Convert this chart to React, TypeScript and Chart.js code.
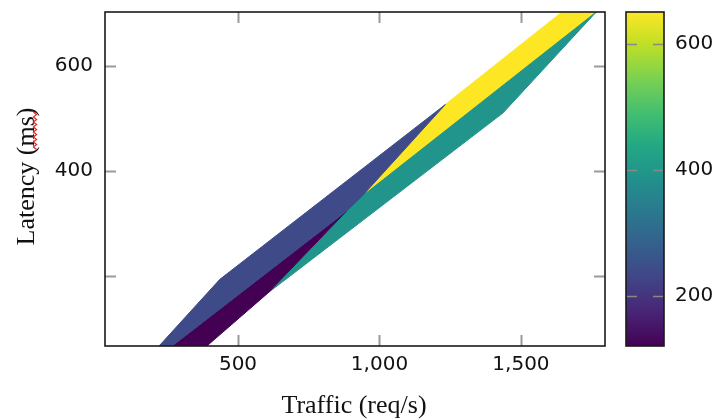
import React, { useEffect, useRef } from 'react';
import { Chart, registerables } from 'chart.js';

Chart.register(...registerables);

// ---- axis ticks / labels ----
const xTicks = [500, 1000, 1500];
const yTicks = [200, 400, 600];
const yTickLabels = ['', '400', '600'];
const cbTicks = [200, 400, 600];
const xRange = [30, 1797];
const yRange = [67, 703];
const cbRange = [121, 651];
const xTitle = 'Traffic (req/s)';
const yTitle = 'Latency (ms)';

// ---- regions (polygons in data space) and their values ----
const regionValues = [240, 121, 395, 651];
const blueX = [221, 436, 1233, 938, 884, 267];
const blueY = [67, 194, 527, 352, 324, 67];
const purpleX = [267, 884, 606, 390];
const purpleY = [67, 324, 168, 67];
const tealX = [606, 884, 938, 1766, 1437];
const tealY = [168, 324, 352, 703, 511];
const yellowX = [938, 1233, 1645, 1766];
const yellowY = [352, 527, 703, 703];

const VIRIDIS = ['#440154', '#482475', '#414487', '#355f8d', '#2a788e', '#21918c', '#22a884', '#44bf70', '#7ad151', '#bddf26', '#fde725'];

function hexToRgb(h: string) {
  return [parseInt(h.slice(1, 3), 16), parseInt(h.slice(3, 5), 16), parseInt(h.slice(5, 7), 16)];
}
function viridis(t: number) {
  const c = Math.max(0, Math.min(1, t));
  const p = c * (VIRIDIS.length - 1);
  const i = Math.min(Math.floor(p), VIRIDIS.length - 2);
  const f = p - i;
  const a = hexToRgb(VIRIDIS[i]);
  const b = hexToRgb(VIRIDIS[i + 1]);
  const m = a.map((v, k) => Math.round(v + (b[k] - v) * f));
  return `rgb(${m[0]},${m[1]},${m[2]})`;
}
function colorFor(v: number) {
  return viridis((v - cbRange[0]) / (cbRange[1] - cbRange[0]));
}

const TICK_FONT = { family: '"DejaVu Sans"', size: 20 };
const TICK_COLOR = '#111';
const TITLE_FONT = '26px "Liberation Serif"';

function zeroPad(s: any) {
  s.paddingTop = 0;
  s.paddingBottom = 0;
  s.paddingLeft = 0;
  s.paddingRight = 0;
}

const decorPlugin = {
  id: 'decor',
  afterDraw(chart: any) {
    const { ctx, chartArea: a, scales } = chart;
    const xs = scales.x, ys = scales.y, cb = scales.cb;
    ctx.save();
    // inward ticks
    ctx.strokeStyle = '#9a9a9a';
    ctx.lineWidth = 2;
    const L = 11;
    ctx.beginPath();
    xTicks.forEach((v) => {
      const px = Math.round(xs.getPixelForValue(v)) + 0.5;
      ctx.moveTo(px, a.bottom); ctx.lineTo(px, a.bottom - L);
      ctx.moveTo(px, a.top); ctx.lineTo(px, a.top + L);
    });
    yTicks.forEach((v) => {
      const py = Math.round(ys.getPixelForValue(v)) + 0.5;
      ctx.moveTo(a.left, py); ctx.lineTo(a.left + L, py);
      ctx.moveTo(a.right, py); ctx.lineTo(a.right - L, py);
    });
    ctx.stroke();
    // frame
    ctx.strokeStyle = '#1a1a1a';
    ctx.lineWidth = 1.6;
    ctx.strokeRect(a.left, a.top, a.right - a.left, a.bottom - a.top);

    // colorbar
    const cx0 = a.right + 21, cw = 38;
    const yb = cb.getPixelForValue(cbRange[0]);
    const yt = cb.getPixelForValue(cbRange[1]);
    const g = ctx.createLinearGradient(0, yb, 0, yt);
    VIRIDIS.forEach((c, i) => g.addColorStop(i / (VIRIDIS.length - 1), c));
    ctx.fillStyle = g;
    ctx.fillRect(cx0, yt, cw, yb - yt);
    ctx.strokeStyle = '#888';
    ctx.lineWidth = 1.5;
    ctx.beginPath();
    cbTicks.forEach((v) => {
      const py = Math.round(cb.getPixelForValue(v)) + 0.5;
      ctx.moveTo(cx0 + 1, py); ctx.lineTo(cx0 + 11, py);
      ctx.moveTo(cx0 + cw - 11, py); ctx.lineTo(cx0 + cw - 1, py);
    });
    ctx.stroke();
    ctx.strokeStyle = '#1a1a1a';
    ctx.lineWidth = 1.6;
    ctx.strokeRect(cx0, yt, cw, yb - yt);

    // axis titles
    ctx.fillStyle = '#111';
    ctx.font = TITLE_FONT;
    ctx.textAlign = 'center';
    ctx.textBaseline = 'alphabetic';
    ctx.fillText(xTitle, (a.left + a.right) / 2 - 1, 413);
    ctx.save();
    ctx.translate(33.5, (a.top + a.bottom) / 2 - 2.5);
    ctx.rotate(-Math.PI / 2);
    ctx.fillText(yTitle, 0, 0);
    ctx.restore();

    // spell-check squiggle under "ms"
    ctx.strokeStyle = '#e02828';
    ctx.lineWidth = 1.2;
    ctx.beginPath();
    let k = 0;
    for (let y = 112; y <= 150; y += 2.5) {
      const x = 35 + (k % 2 ? 1.6 : -1.6);
      if (k === 0) ctx.moveTo(x, y); else ctx.lineTo(x, y);
      k++;
    }
    ctx.stroke();
    ctx.restore();
  },
};

export default function App() {
  const ref = useRef<HTMLCanvasElement>(null);
  useEffect(() => {
    const canvas = ref.current;
    if (!canvas) return;
    const polys = [
      { xs: blueX, ys: blueY, v: regionValues[0] },
      { xs: purpleX, ys: purpleY, v: regionValues[1] },
      { xs: tealX, ys: tealY, v: regionValues[2] },
      { xs: yellowX, ys: yellowY, v: regionValues[3] },
    ];
    const datasets = polys.map((p) => {
      const pts = p.xs.map((x, i) => ({ x, y: p.ys[i] }));
      pts.push({ x: p.xs[0], y: p.ys[0] });
      const c = colorFor(p.v);
      return {
        data: pts,
        fill: 'shape',
        backgroundColor: c,
        borderColor: c,
        borderWidth: 1,
        pointRadius: 0,
        tension: 0,
      };
    });
    const chart = new Chart(canvas, {
      type: 'line',
      data: { datasets } as any,
      options: {
        responsive: false,
        maintainAspectRatio: false,
        animation: false,
        events: [],
        layout: { padding: { top: 12, left: 0, right: 0, bottom: 0 } },
        plugins: { legend: { display: false }, tooltip: { enabled: false } },
        scales: {
          x: {
            type: 'linear',
            position: 'bottom',
            min: xRange[0],
            max: xRange[1],
            grid: { display: false, drawTicks: false, tickLength: 0 },
            border: { display: false },
            afterBuildTicks: (s: any) => { s.ticks = xTicks.map((v) => ({ value: v })); },
            afterFit: (s: any) => { s.height = 73; zeroPad(s); },
            ticks: {
              font: TICK_FONT,
              color: TICK_COLOR,
              padding: 7,
              maxRotation: 0,
              autoSkip: false,
              callback: (v: any) => Number(v).toLocaleString('en-US'),
            },
          },
          y: {
            type: 'linear',
            position: 'left',
            min: yRange[0],
            max: yRange[1],
            grid: { display: false, drawTicks: false, tickLength: 0 },
            border: { display: false },
            afterBuildTicks: (s: any) => { s.ticks = yTicks.map((v) => ({ value: v })); },
            afterFit: (s: any) => { s.width = 105; zeroPad(s); },
            ticks: {
              font: TICK_FONT,
              color: TICK_COLOR,
              padding: 12,
              autoSkip: false,
              callback: (v: any) => yTickLabels[yTicks.indexOf(Number(v))] ?? '',
            },
          },
          cb: {
            type: 'linear',
            position: 'right',
            min: cbRange[0],
            max: cbRange[1],
            grid: { display: false, drawTicks: false, tickLength: 0 },
            border: { display: false },
            afterBuildTicks: (s: any) => { s.ticks = cbTicks.map((v) => ({ value: v })); },
            afterFit: (s: any) => { s.width = 111; zeroPad(s); },
            ticks: {
              font: TICK_FONT,
              color: TICK_COLOR,
              padding: 70,
              autoSkip: false,
              callback: (v: any) => String(v),
            },
          },
        },
      } as any,
      plugins: [decorPlugin],
    });
    return () => chart.destroy();
  }, []);
  return (
    <div style={{ position: 'absolute', left: 0, top: 0, width: 716, height: 419, background: '#fff' }}>
      <canvas ref={ref} width={716} height={419} style={{ display: 'block', width: 716, height: 419 }} />
    </div>
  );
}
